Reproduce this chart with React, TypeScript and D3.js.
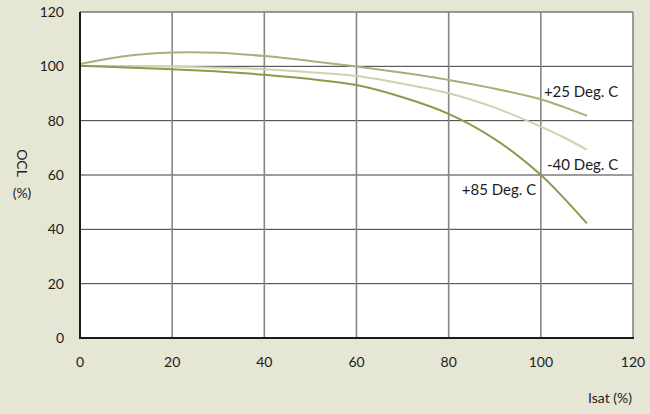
import React, { useRef, useEffect } from 'react';
import * as d3 from 'd3';

// Isat (%) sample points
const isat = [0, 10, 20, 30, 40, 50, 60, 70, 80, 90, 100, 105, 110];
const ocl25 = [100.9, 103.8, 105.1, 105, 103.8, 102, 99.9, 97.6, 95, 91.8, 87.9, 85, 81.8];
const oclMinus40 = [100.2, 100.1, 99.9, 99.5, 98.9, 97.8, 96.4, 93.6, 90.1, 84.8, 77.8, 73.8, 69.3];
const ocl85 = [100.2, 99.6, 98.9, 98.1, 96.9, 95.3, 93.1, 88.6, 82.5, 73.2, 60, 51.5, 42.2];

const xTicks = [0, 20, 40, 60, 80, 100, 120];
const yTicks = [0, 20, 40, 60, 80, 100, 120];

const series = [
  { name: '-40 Deg. C', values: oclMinus40, color: '#cdd3ad', lx: 116.8, ly: 61.8 },
  { name: '+25 Deg. C', values: ocl25, color: '#a8b078', lx: 116.8, ly: 88.6 },
  { name: '+85 Deg. C', values: ocl85, color: '#8b9a4b', lx: 99, ly: 52.6 },
];

const App = () => {
  const ref = useRef<SVGSVGElement>(null);

  useEffect(() => {
    const svg = d3.select(ref.current);
    svg.selectAll('*').remove();

    const x = d3.scaleLinear().domain([0, 120]).range([80, 633]);
    const y = d3.scaleLinear().domain([0, 120]).range([338, 12]);
    const font = 'Lato, "Open Sans", sans-serif';
    const ink = '#1c1c1c';

    svg.append('rect').attr('width', 650).attr('height', 414).attr('fill', '#e5e7d4');
    svg.append('rect')
      .attr('x', x(0)).attr('y', y(120))
      .attr('width', x(120) - x(0)).attr('height', y(0) - y(120))
      .attr('fill', '#fff');

    // grid
    svg.append('g').selectAll('line').data(yTicks.slice(1)).join('line')
      .attr('x1', x(0)).attr('x2', x(120))
      .attr('y1', d => y(d)).attr('y2', d => y(d))
      .attr('stroke', '#3a3a3a').attr('stroke-width', 1);
    svg.append('g').selectAll('line').data(xTicks.slice(1)).join('line')
      .attr('x1', d => x(d)).attr('x2', d => x(d))
      .attr('y1', y(0)).attr('y2', y(120))
      .attr('stroke', '#858585').attr('stroke-width', 1.6);

    // curves
    const line = d3.line<number>()
      .x((_, i) => x(isat[i]))
      .y(d => y(d))
      .curve(d3.curveCatmullRom.alpha(0.5));
    series.forEach(s => {
      svg.append('path')
        .attr('d', line(s.values))
        .attr('fill', 'none')
        .attr('stroke', s.color)
        .attr('stroke-width', 2);
      svg.append('text')
        .attr('x', x(s.lx)).attr('y', y(s.ly))
        .attr('text-anchor', 'end')
        .attr('font-family', font).attr('font-size', 15)
        .attr('fill', ink)
        .text(s.name);
    });

    // axis lines
    svg.append('line').attr('x1', x(0)).attr('x2', x(0)).attr('y1', y(0) + 1).attr('y2', y(120))
      .attr('stroke', '#1a1a1a').attr('stroke-width', 2);
    svg.append('line').attr('x1', x(0) - 1).attr('x2', x(120) + 1).attr('y1', y(0)).attr('y2', y(0))
      .attr('stroke', '#1a1a1a').attr('stroke-width', 2);

    // tick labels
    svg.append('g').selectAll('text').data(yTicks).join('text')
      .attr('x', 64).attr('y', d => y(d)).attr('dy', '0.35em')
      .attr('text-anchor', 'end')
      .attr('font-family', font).attr('font-size', 14).attr('fill', ink)
      .text(d => d);
    svg.append('g').selectAll('text').data(xTicks).join('text')
      .attr('x', d => x(d)).attr('y', 362).attr('dy', '0.35em')
      .attr('text-anchor', 'middle')
      .attr('font-family', font).attr('font-size', 14).attr('fill', ink)
      .text(d => d);

    // axis titles
    svg.append('text')
      .attr('transform', 'translate(17,163) rotate(90)')
      .attr('text-anchor', 'middle')
      .attr('font-family', font).attr('font-size', 14).attr('fill', ink)
      .text('OCL');
    svg.append('text')
      .attr('x', 22).attr('y', 193).attr('dy', '0.35em')
      .attr('text-anchor', 'middle')
      .attr('font-family', font).attr('font-size', 14).attr('fill', ink)
      .text('(%)');
    svg.append('text')
      .attr('x', 632).attr('y', 398).attr('dy', '0.35em')
      .attr('text-anchor', 'end')
      .attr('font-family', font).attr('font-size', 14).attr('fill', ink)
      .text('Isat (%)');
  }, []);

  return (
    <svg ref={ref} width={650} height={414}
      style={{ position: 'absolute', left: 0, top: 0, display: 'block' }} />
  );
};

export default App;
